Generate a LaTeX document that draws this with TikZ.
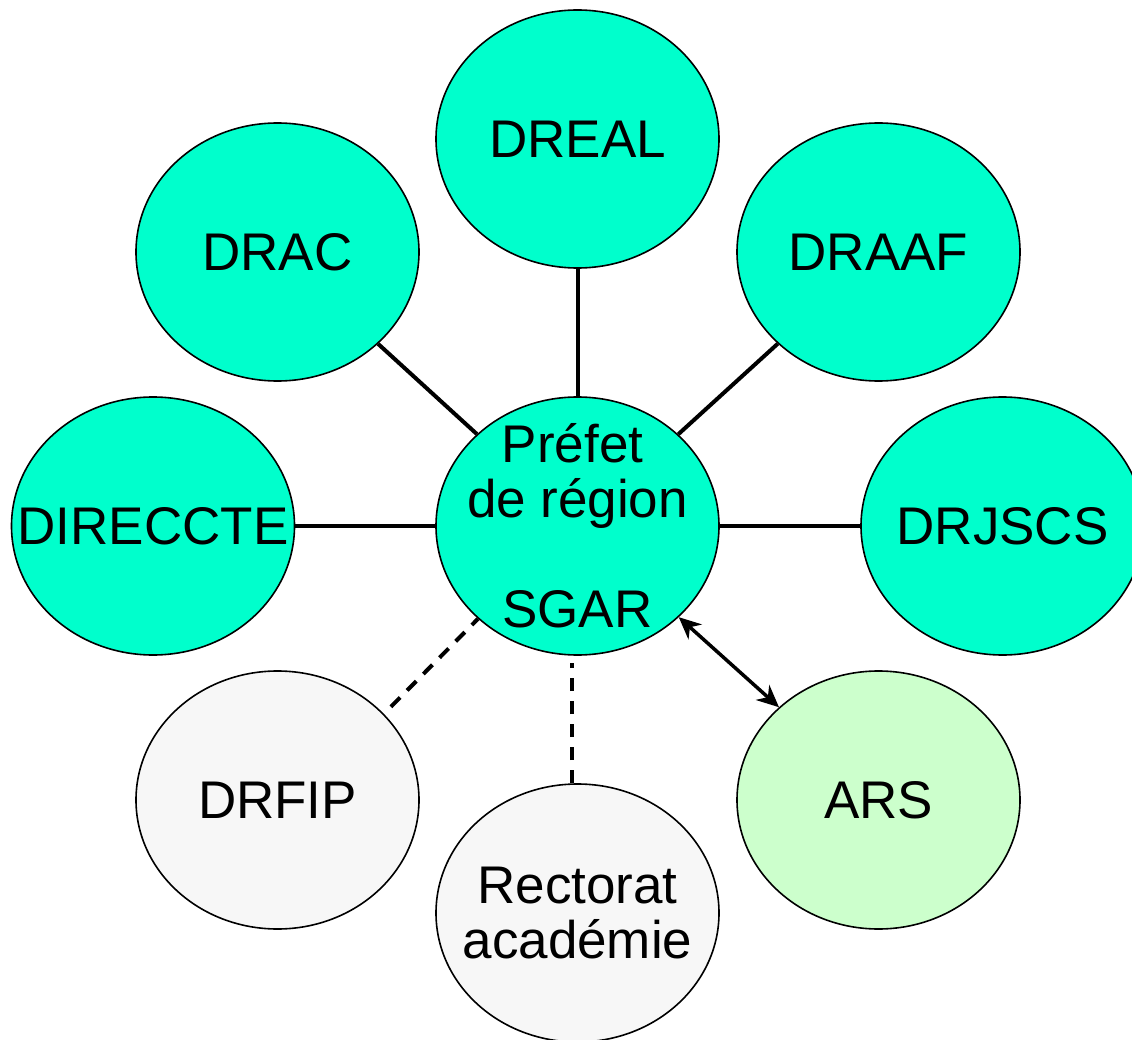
\documentclass[tikz,border=0pt]{standalone}
\usepackage{fontspec}
\setmainfont{Liberation Sans}
\usetikzlibrary{shapes.geometric,arrows.meta,calc}
\definecolor{cyanfill}{HTML}{00FFCC}
\definecolor{greenfill}{HTML}{CCFFCC}
\definecolor{greyfill}{HTML}{F7F7F7}
\begin{document}
\begin{tikzpicture}[x=1pt,y=-1pt,
  org/.style={ellipse,draw=black,line width=1.6pt,minimum width=283pt,minimum height=258pt,inner sep=0pt},
  main/.style={org,fill=cyanfill},
  ext/.style={org,fill=greyfill},
  ars/.style={org,fill=greenfill},
  txt/.style={inner sep=0pt,align=center,font=\fontsize{53}{55}\selectfont},
  link/.style={line width=4pt},
  dlink/.style={line width=4pt,dash pattern=on 13pt off 10pt},
  biarrow/.style={line width=3.5pt,{Stealth[length=22pt,width=20pt,inset=7pt]}-{Stealth[length=22pt,width=20pt,inset=7pt]}}
]
\useasboundingbox (0,0) rectangle (1132,1040);
\node[main] (center) at (577.5,526) {};
\node[main] (dreal) at (577.5,139) {};
\node[main] (drac) at (277.5,252) {};
\node[main] (draaf) at (878.5,252) {};
\node[main] (direccte) at (153,526) {};
\node[main] (drjscs) at (1002.5,526) {};
\node[ext] (drfip) at (277.5,800) {};
\node[ext] (rectorat) at (577.5,913) {};
\node[ars] (arsn) at (878.5,800) {};

\node[txt] (centerT) at (center) {Préfet\hspace*{10pt}\\de région\\[55pt]SGAR};
\node[txt] (drealT) at (dreal) {DREAL};
\node[txt] (dracT) at (drac) {DRAC};
\node[txt] (draafT) at (draaf) {DRAAF};
\node[txt] (direccteT) at (direccte) {DIRECCTE};
\node[txt] (drjscsT) at (drjscs) {DRJSCS};
\node[txt] (drfipT) at (drfip) {DRFIP};
\node[txt] (rectoratT) at (rectorat) {Rectorat\\académie};
\node[txt] (arsT) at (arsn) {ARS};

\draw[link] (dreal) -- (center);
\draw[link] (drac) -- (center);
\draw[link] (draaf) -- (center);
\draw[link] (direccte) -- (center);
\draw[link] (drjscs) -- (center);
\draw[dlink,shorten <=10pt] (drfip.39.5) -- (center.223);
\draw[dlink] ($(rectorat.north)+(-6,0)$) -- ($(center.south)+(-6,7)$);
\draw[biarrow] (center.-42) -- (arsn.137);
\end{tikzpicture}
\end{document}
